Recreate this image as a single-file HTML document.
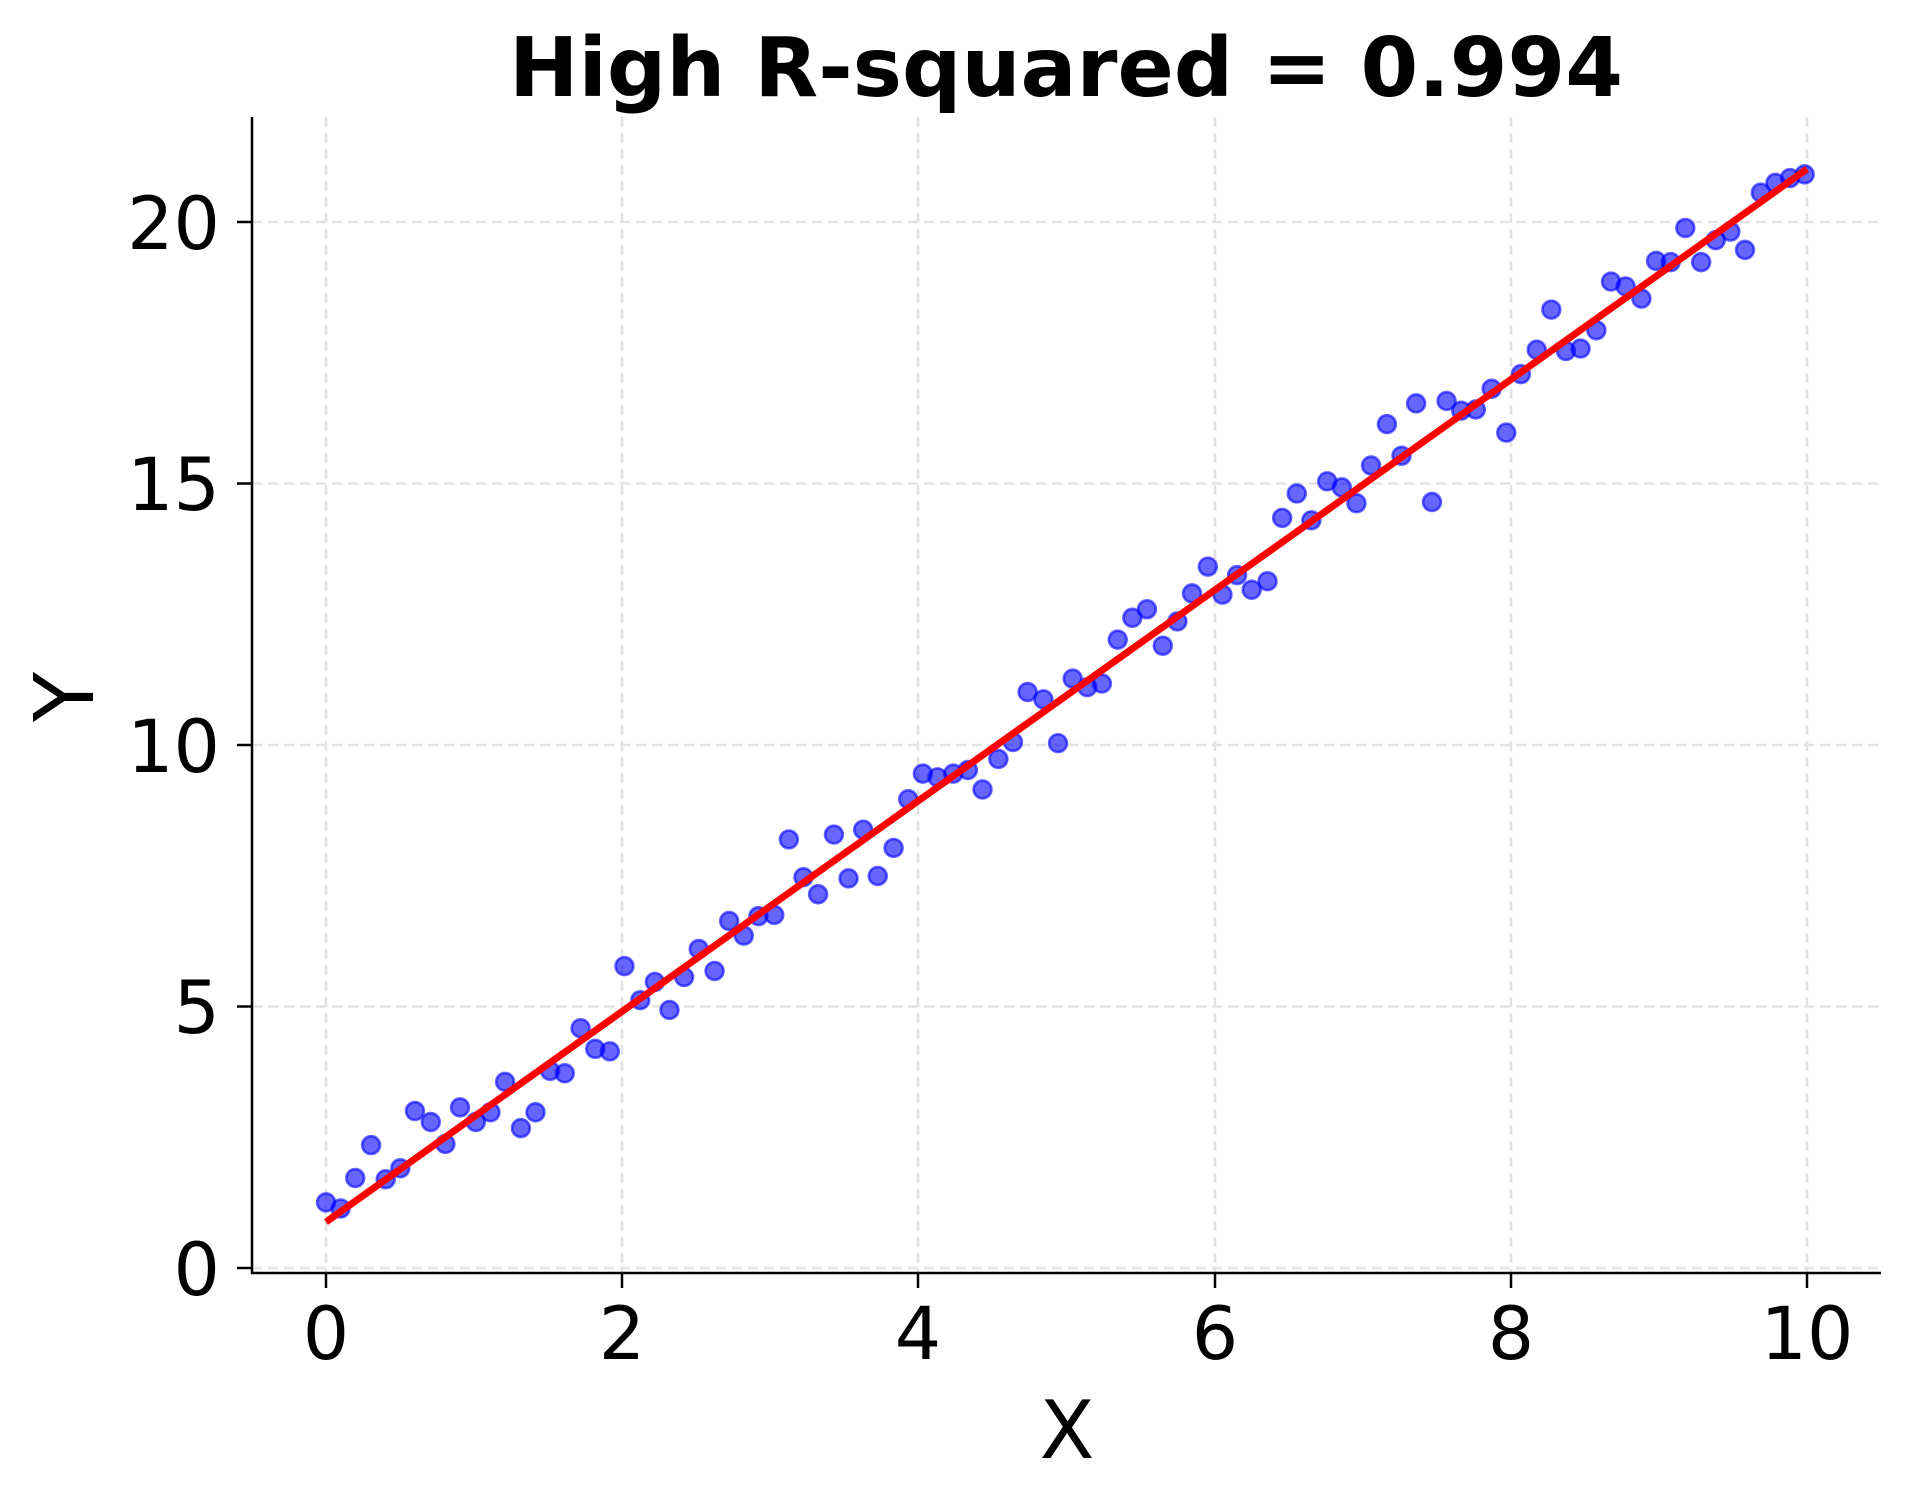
<!DOCTYPE html>
<html><head><meta charset="utf-8"><style>
html,body{margin:0;padding:0;background:#fff;}
svg{display:block;font-family:"DejaVu Sans","Liberation Sans",sans-serif;}
</style></head><body>
<svg width="1909" height="1503" viewBox="0 0 1909 1503" xmlns="http://www.w3.org/2000/svg">
<rect width="1909" height="1503" fill="#fff"/>
<g stroke="#e3e3e3" stroke-width="2.5" stroke-dasharray="10,6">
<line x1="326" y1="117" x2="326" y2="1273"/>
<line x1="622" y1="117" x2="622" y2="1273"/>
<line x1="918" y1="117" x2="918" y2="1273"/>
<line x1="1215" y1="117" x2="1215" y2="1273"/>
<line x1="1511" y1="117" x2="1511" y2="1273"/>
<line x1="1807" y1="117" x2="1807" y2="1273"/>
<line x1="252" y1="1268" x2="1881" y2="1268"/>
<line x1="252" y1="1006.5" x2="1881" y2="1006.5"/>
<line x1="252" y1="745" x2="1881" y2="745"/>
<line x1="252" y1="483.5" x2="1881" y2="483.5"/>
<line x1="252" y1="222" x2="1881" y2="222"/>
</g>
<g transform="translate(-0.4,-1) scale(1.218)" fill="#0000ff" fill-opacity="0.6" stroke="#0000ff" stroke-opacity="0.6" stroke-width="2.2">
<circle cx="268" cy="988" r="7.3"/><circle cx="280" cy="993" r="7.3"/><circle cx="292" cy="968" r="7.3"/><circle cx="305" cy="941" r="7.3"/><circle cx="317" cy="969" r="7.3"/><circle cx="329" cy="960" r="7.3"/><circle cx="341" cy="913" r="7.3"/><circle cx="354" cy="922" r="7.3"/><circle cx="366" cy="940" r="7.3"/><circle cx="378" cy="910" r="7.3"/><circle cx="391" cy="922" r="7.3"/><circle cx="403" cy="914" r="7.3"/><circle cx="415" cy="889" r="7.3"/><circle cx="428" cy="927" r="7.3"/><circle cx="440" cy="914" r="7.3"/><circle cx="452" cy="880" r="7.3"/><circle cx="464" cy="882" r="7.3"/><circle cx="477" cy="845" r="7.3"/><circle cx="489" cy="862" r="7.3"/><circle cx="501" cy="864" r="7.3"/><circle cx="513" cy="794" r="7.3"/><circle cx="526" cy="822" r="7.3"/><circle cx="538" cy="807" r="7.3"/><circle cx="550" cy="830" r="7.3"/><circle cx="562" cy="803" r="7.3"/><circle cx="574" cy="780" r="7.3"/><circle cx="587" cy="798" r="7.3"/><circle cx="599" cy="757" r="7.3"/><circle cx="611" cy="769" r="7.3"/><circle cx="623" cy="753" r="7.3"/><circle cx="636" cy="752" r="7.3"/><circle cx="648" cy="690" r="7.3"/><circle cx="660" cy="721" r="7.3"/><circle cx="672" cy="735" r="7.3"/><circle cx="685" cy="686" r="7.3"/><circle cx="697" cy="722" r="7.3"/><circle cx="709" cy="682" r="7.3"/><circle cx="721" cy="720" r="7.3"/><circle cx="734" cy="697" r="7.3"/><circle cx="746" cy="657" r="7.3"/><circle cx="758" cy="636" r="7.3"/><circle cx="770" cy="639" r="7.3"/><circle cx="783" cy="636" r="7.3"/><circle cx="795" cy="633" r="7.3"/><circle cx="807" cy="649" r="7.3"/><circle cx="820" cy="624" r="7.3"/><circle cx="832" cy="610" r="7.3"/><circle cx="844" cy="569" r="7.3"/><circle cx="857" cy="575" r="7.3"/><circle cx="869" cy="611" r="7.3"/><circle cx="881" cy="558" r="7.3"/><circle cx="893" cy="565" r="7.3"/><circle cx="905" cy="562" r="7.3"/><circle cx="918" cy="526" r="7.3"/><circle cx="930" cy="508" r="7.3"/><circle cx="942" cy="501" r="7.3"/><circle cx="955" cy="531" r="7.3"/><circle cx="967" cy="511" r="7.3"/><circle cx="979" cy="488" r="7.3"/><circle cx="992" cy="466" r="7.3"/><circle cx="1004" cy="489" r="7.3"/><circle cx="1016" cy="473" r="7.3"/><circle cx="1028" cy="485" r="7.3"/><circle cx="1041" cy="478" r="7.3"/><circle cx="1053" cy="426" r="7.3"/><circle cx="1065" cy="406" r="7.3"/><circle cx="1077" cy="428" r="7.3"/><circle cx="1090" cy="396" r="7.3"/><circle cx="1102" cy="401" r="7.3"/><circle cx="1114" cy="414" r="7.3"/><circle cx="1126" cy="383" r="7.3"/><circle cx="1139" cy="349" r="7.3"/><circle cx="1151" cy="375" r="7.3"/><circle cx="1163" cy="332" r="7.3"/><circle cx="1176" cy="413" r="7.3"/><circle cx="1188" cy="330" r="7.3"/><circle cx="1200" cy="338" r="7.3"/><circle cx="1212" cy="337" r="7.3"/><circle cx="1225" cy="320" r="7.3"/><circle cx="1237" cy="356" r="7.3"/><circle cx="1249" cy="308" r="7.3"/><circle cx="1262" cy="288" r="7.3"/><circle cx="1274" cy="255" r="7.3"/><circle cx="1286" cy="289" r="7.3"/><circle cx="1298" cy="287" r="7.3"/><circle cx="1311" cy="272" r="7.3"/><circle cx="1323" cy="232" r="7.3"/><circle cx="1335" cy="236" r="7.3"/><circle cx="1348" cy="246" r="7.3"/><circle cx="1360" cy="215" r="7.3"/><circle cx="1372" cy="216" r="7.3"/><circle cx="1384" cy="188" r="7.3"/><circle cx="1397" cy="216" r="7.3"/><circle cx="1409" cy="198" r="7.3"/><circle cx="1421" cy="191" r="7.3"/><circle cx="1433" cy="206" r="7.3"/><circle cx="1446" cy="159" r="7.3"/><circle cx="1458" cy="151" r="7.3"/><circle cx="1470" cy="147" r="7.3"/><circle cx="1482" cy="144" r="7.3"/>
</g>
<line x1="326" y1="1222" x2="1807" y2="169" stroke="#ff0000" stroke-width="7"/>
<g stroke="#000" stroke-width="2.5">
<line x1="252" y1="117" x2="252" y2="1274"/>
<line x1="251" y1="1273" x2="1881" y2="1273"/>
<line x1="237" y1="1268" x2="252" y2="1268"/>
<line x1="237" y1="1006.5" x2="252" y2="1006.5"/>
<line x1="237" y1="745" x2="252" y2="745"/>
<line x1="237" y1="483.5" x2="252" y2="483.5"/>
<line x1="237" y1="222" x2="252" y2="222"/>
<line x1="326" y1="1273" x2="326" y2="1288"/>
<line x1="622" y1="1273" x2="622" y2="1288"/>
<line x1="918" y1="1273" x2="918" y2="1288"/>
<line x1="1215" y1="1273" x2="1215" y2="1288"/>
<line x1="1511" y1="1273" x2="1511" y2="1288"/>
<line x1="1807" y1="1273" x2="1807" y2="1288"/>
</g>
<g font-size="73" fill="#000" text-anchor="middle">
<text x="326" y="1359">0</text>
<text x="622" y="1359">2</text>
<text x="918" y="1359">4</text>
<text x="1215" y="1359">6</text>
<text x="1511" y="1359">8</text>
<text x="1807" y="1359">10</text>
</g>
<g font-size="73" fill="#000" text-anchor="end">
<text x="220" y="1295">0</text>
<text x="220" y="1033">5</text>
<text x="220" y="772">10</text>
<text x="220" y="510">15</text>
<text x="220" y="249">20</text>
</g>
<text x="1067" y="1458" font-size="80" text-anchor="middle">X</text>
<text transform="translate(93,697) rotate(-90)" font-size="82" text-anchor="middle">Y</text>
<text x="1066" y="96" font-size="82" font-weight="bold" text-anchor="middle" textLength="1114" lengthAdjust="spacingAndGlyphs">High R-squared = 0.994</text>
</svg>
</body></html>
